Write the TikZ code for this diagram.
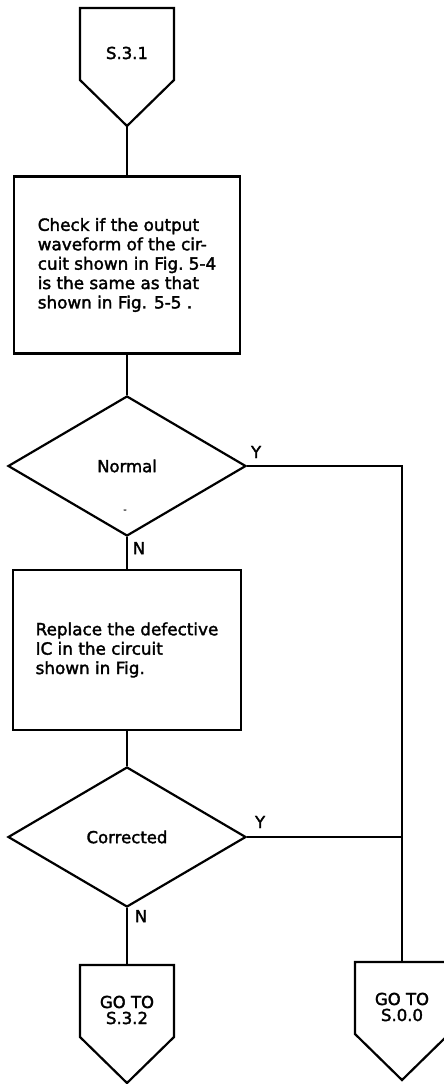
\documentclass[tikz,border=0pt]{standalone}
\usepackage{fontspec}
\setmainfont{DejaVu Sans}[FakeBold=2]
\usetikzlibrary{shapes.geometric,calc}

\begin{document}
\begin{tikzpicture}[
      x=1pt, y=-1pt, line width=2.2pt, line join=miter,
      pg/.style={rectangle,minimum width=94pt,minimum height=88pt,inner sep=0pt,
                 outer sep=0pt,align=center,font=\fontsize{16.5}{16}\selectfont},
      bx/.style={rectangle,draw,align=left,inner sep=0pt,
                 font=\fontsize{16.8}{19.4}\selectfont},
      dc/.style={diamond,draw,minimum width=238pt,minimum height=140pt,inner sep=0pt,
                 font=\fontsize{16.5}{20}\selectfont},
      lb/.style={inner sep=0pt,font=\fontsize{16.5}{18}\selectfont}]

    \useasboundingbox (0,0) rectangle (444,1084);

    \node[pg] (p0) at (127,53) {S.3.1};
    \node[bx,minimum width=226pt,minimum height=177pt] (b0) at (127,265)
       {Check if the output\\ waveform of the cir-\\ cuit shown in Fig.~5-4\\
        is the same as that\\ shown in Fig. 5-5~.};
    \node[dc] (d0) at (127,466) {Normal};
    \node[bx,minimum width=228pt,minimum height=160pt] (b1) at (127,650)
       {Replace the defective\\ IC in the circuit\\ shown in Fig.};
    \node[dc] (d1) at (127,837) {Corrected};
    \node[pg] (p1) at (127,1010) {GO TO\\ S.3.2};
    \node[pg] (p2) at (402,1007) {GO TO\\ S.0.0};

    % off-page connector outlines
    \foreach \p in {p0,p1,p2}
      \draw ($(\p.north west)+(0,-1)$) -- ($(\p.north east)+(0,-1)$) -- ++(0,72)
        -- ($(\p.north)+(0,117)$) -- ($(\p.north west)+(0,71)$) -- cycle;
    \coordinate (t0) at ($(p0.north)+(0,117)$);

    \draw (t0) -- (b0.north);
    \draw (b0.south) -- (d0.north);
    \draw (d0.south) -- (b1.north);
    \draw (b1.south) -- (d1.north);
    \draw (d1.south) -- (p1.north);
    \draw (d0.east) -- (d0.east -| p2.north) -- (p2.north);
    \draw (d1.east) -- (d1.east -| p2.north);

    \node[lb] (y0) at ($(d0.east)+(9,-14)$) {Y};
    \node[lb] (n0) at ($(d0.south)+(12,11)$) {N};
    \node[lb] (y1) at ($(d1.east)+(13,-15)$) {Y};
    \node[lb] (n1) at ($(d1.south)+(14,8)$) {N};
    \node[inner sep=0pt,font=\fontsize{9}{9}\selectfont] (sp) at (125,511) {-};
  \end{tikzpicture}
\end{document}
